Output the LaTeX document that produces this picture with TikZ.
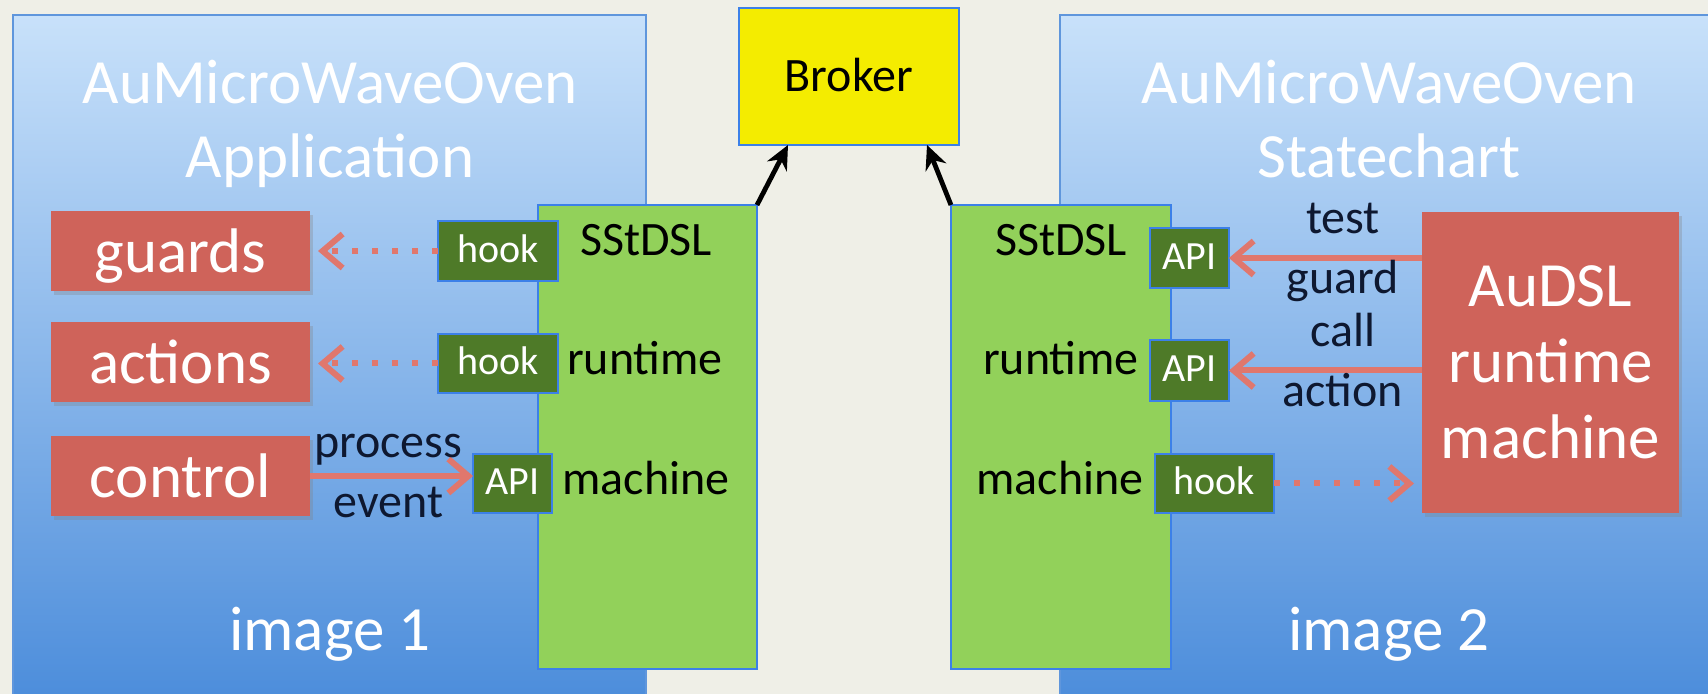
\documentclass[tikz,border=0pt]{standalone}
\usepackage{fontspec}
\setmainfont{Carlito}
\usetikzlibrary{arrows.meta,shadows,calc}

\definecolor{pagebg}{RGB}{239,239,231}
\definecolor{panetop}{RGB}{200,225,250}
\definecolor{panebot}{RGB}{76,141,219}
\definecolor{paneedge}{RGB}{95,150,220}
\definecolor{rtgreen}{RGB}{146,209,90}
\definecolor{edgeblue}{RGB}{60,128,232}
\definecolor{partred}{RGB}{207,99,90}
\definecolor{portgreen}{RGB}{78,122,40}
\definecolor{linkred}{RGB}{224,119,109}
\definecolor{brokeryellow}{RGB}{244,236,0}
\definecolor{labelink}{RGB}{14,24,48}

\begin{document}
\begin{tikzpicture}[x=0.5pt, y=-0.5pt,
  box/.style={rectangle, inner sep=0pt, outer sep=0pt},
  pane/.style={box, draw=paneedge, line width=0.6pt, top color=panetop, bottom color=panebot},
  part/.style={box, fill=partred, text=white, font=\fontsize{31.5}{38}\selectfont,
    drop shadow={shadow xshift=1.5pt, shadow yshift=-2pt, opacity=0.3}},
  oneline/.style={text height=29pt, text depth=7pt},
  runtimebox/.style={box, fill=rtgreen, draw=edgeblue, line width=1.4pt},
  port/.style={box, fill=portgreen, draw=edgeblue, line width=1.2pt, text=white,
    font=\fontsize{20}{24}\selectfont, text height=15.5pt, text depth=4pt},
  brokerbox/.style={box, fill=brokeryellow, draw=edgeblue, line width=1.4pt,
    font=\fontsize{24}{29}\selectfont, text height=20pt, text depth=4.5pt},
  heading/.style={text=white, font=\fontsize{31.5}{38}\selectfont, anchor=base, inner sep=0pt},
  layer/.style={text=black, font=\fontsize{24}{29}\selectfont, anchor=base, inner sep=0pt},
  note/.style={text=labelink, font=\fontsize{24}{30}\selectfont, anchor=base, inner sep=0pt},
  call/.style={draw=linkred, line width=3pt, -{Straight Barb[length=10pt, width=17pt]}},
  hookcall/.style={call, dash pattern=on 3pt off 7pt},
  link/.style={line width=2.4pt, -{Stealth[length=12pt, width=11pt]}}
]
\useasboundingbox (0,0) rectangle (1708,694);
\clip (0,0) rectangle (1708,694);
\fill[pagebg] (0,0) rectangle (1708,694);

% the two images
\node[pane, minimum width=316.5pt, minimum height=342.5pt] (panL) at (329.5,357.5) {};
\node[pane, minimum width=329pt, minimum height=342.5pt] (panR) at (1389,357.5) {};

\node[heading] (tL1) at (330,104) {AuMicroWaveOven};
\node[heading] (tL2) at (330,178) {Application};
\node[heading] (tR1) at (1389,104) {AuMicroWaveOven};
\node[heading] (tR2) at (1389,178) {Statechart};
\node[heading] (imgL) at (330,651) {image 1};
\node[heading] (imgR) at (1389,651) {image 2};

% broker
\node[brokerbox, minimum width=110pt, minimum height=68.5pt] (brk) at (849,76.5) {Broker};

% application parts
\node[part, oneline, minimum width=129.5pt, minimum height=40pt] (guards) at (180.5,251) {guards};
\node[part, oneline, minimum width=129.5pt, minimum height=40pt] (actions) at (180.5,362) {actions};
\node[part, oneline, minimum width=129.5pt, minimum height=40pt] (control) at (180.5,476) {control};

% statechart runtime
\node[part, align=center, minimum width=128.5pt, minimum height=150.5pt] (audsl) at (1550.5,362.5) {AuDSL\\runtime\\machine};

% SStDSL runtime machines
\node[runtimebox, minimum width=109.5pt, minimum height=232pt] (gL) at (647.5,437) {};
\node[runtimebox, minimum width=110pt, minimum height=232pt] (gR) at (1061,437) {};

\node[layer] (sL1) at (646,256) {SStDSL};
\node[layer] (sL2) at (645,375) {runtime};
\node[layer] (sL3) at (646,495) {machine};
\node[layer] (sR1) at (1061,256) {SStDSL};
\node[layer] (sR2) at (1061,375) {runtime};
\node[layer] (sR3) at (1060,495) {machine};

% hooks and APIs
\node[port, minimum width=60pt, minimum height=30pt] (hookL1) at (498,251) {hook};
\node[port, minimum width=60pt, minimum height=29.5pt] (hookL2) at (498,363.5) {hook};
\node[port, minimum width=39.5pt, minimum height=29.5pt] (apiL) at (512.5,483.5) {API};
\node[port, minimum width=39.5pt, minimum height=30pt] (apiR1) at (1189.5,258) {API};
\node[port, minimum width=39.5pt, minimum height=30.5pt] (apiR2) at (1189.5,370.5) {API};
\node[port, minimum width=59.5pt, minimum height=29.5pt] (hookR) at (1214.5,483.5) {hook};

% connections to the broker
\draw[link] (gL.north east) -- ($(brk.south west)+(49,0)$);
\draw[link] (gR.north west) -- ($(brk.south east)+(-32,0)$);

% hook callbacks
\draw[hookcall, shorten >=4pt] (hookL1.west) -- (guards.east |- hookL1.west);
\draw[hookcall, shorten >=4pt] (hookL2.west) -- (actions.east |- hookL2.west);
\draw[hookcall, shorten >=4pt] (hookR.east) -- (audsl.west |- hookR.east);

% API calls
\draw[call] (control.east) -- (apiL.west |- control.east)
  node[note, pos=0.48, yshift=9pt] (lp) {process}
  node[note, pos=0.48, yshift=-21pt] (le) {event};
\draw[call] (audsl.west |- apiR1.east) -- (apiR1.east)
  node[note, pos=0.41, yshift=12pt] (lt) {test}
  node[note, pos=0.41, yshift=-18pt] (lg) {guard};
\draw[call] (audsl.west |- apiR2.east) -- (apiR2.east)
  node[note, pos=0.41, yshift=12pt] (lc) {call}
  node[note, pos=0.41, yshift=-18pt] (la) {action};
\end{tikzpicture}
\end{document}
